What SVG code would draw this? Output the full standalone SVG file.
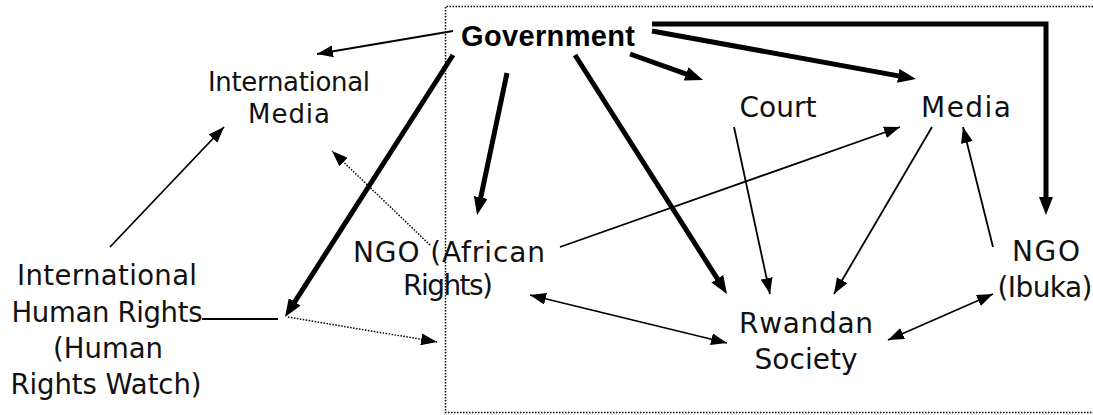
<svg xmlns="http://www.w3.org/2000/svg" width="1093" height="415" viewBox="0 0 1093 415">
<style>
.t{font-family:"DejaVu Sans",sans-serif;fill:#111;text-anchor:middle}
.gov{font-family:"Liberation Sans",Arial,sans-serif;font-weight:bold;fill:#000;text-anchor:middle}
.thin{stroke:#000;stroke-width:1.8;fill:none;marker-end:url(#ah)}
.bi{stroke:#000;stroke-width:1.8;fill:none;marker-end:url(#ah);marker-start:url(#ah)}
.thick{stroke:#000;stroke-width:5;fill:none;marker-end:url(#ahT)}
.dot{stroke:#000;stroke-width:1.5;fill:none;stroke-dasharray:1.5 1.5;marker-end:url(#ah)}
.frame{stroke:#000;stroke-width:1.5;fill:none;stroke-dasharray:1.5 1.5}
</style>
<defs>
<marker id="ah" viewBox="0 0 16 12" refX="16" refY="6" markerWidth="16" markerHeight="12" markerUnits="userSpaceOnUse" orient="auto-start-reverse"><path d="M0,0 L16,6 L0,12 z" fill="#000"/></marker>
<marker id="ahT" viewBox="0 0 18 14" refX="10" refY="7" markerWidth="18" markerHeight="14" markerUnits="userSpaceOnUse" orient="auto"><path d="M0,0 L18,7 L0,14 z" fill="#000"/></marker>
</defs>
<rect width="1093" height="415" fill="#fff"/>
<path class="frame" d="M1093,6.5 L445.5,6.5 L445.5,412.5 L1093,412.5"/>
<g id="connectors">
<line class="thin" x1="453" y1="31" x2="317" y2="54"/>
<line class="thin" x1="110" y1="247" x2="224" y2="127"/>
<line class="dot" x1="430" y1="245" x2="332" y2="151"/>
<line x1="202" y1="319" x2="278" y2="319" stroke="#000" stroke-width="1.8"/>
<line class="dot" x1="288" y1="317" x2="437" y2="342"/>
<line class="thick" x1="453" y1="55" x2="289.3" y2="310.3"/>
<line class="thick" x1="507" y1="73" x2="478.7" y2="207.2"/>
<line class="thick" x1="575" y1="55" x2="722.7" y2="287.2"/>
<line class="thick" x1="630" y1="54" x2="695.5" y2="77.3"/>
<line class="thick" x1="652" y1="31" x2="908.1" y2="77.6"/>
<polyline class="thick" points="652,24 1046,24 1046,207"/>
<line class="thin" x1="560" y1="247" x2="900" y2="127"/>
<line class="thin" x1="734" y1="127" x2="770" y2="294"/>
<line class="thin" x1="932" y1="127" x2="834" y2="294"/>
<line class="thin" x1="993" y1="247" x2="963" y2="127"/>
<line class="bi" x1="530" y1="295" x2="727" y2="343"/>
<line class="bi" x1="888" y1="340" x2="993" y2="294"/>
</g>
<g id="government"><text class="gov" x="548" y="45.5" font-size="29" textLength="174">Government</text></g>
<g id="international-media">
<text class="t" x="289" y="91" font-size="26" textLength="162">International</text>
<text class="t" x="289" y="123" font-size="26" textLength="82">Media</text>
</g>
<g id="court"><text class="t" x="778" y="117" font-size="28" textLength="77">Court</text></g>
<g id="media"><text class="t" x="966" y="117" font-size="28" textLength="90">Media</text></g>
<g id="ngo-african-rights">
<text class="t" x="449" y="262" font-size="28" textLength="192">NGO (African</text>
<text class="t" x="448" y="295" font-size="28" textLength="90">Rights)</text>
</g>
<g id="ngo-ibuka">
<text class="t" x="1046" y="261" font-size="28" textLength="68">NGO</text>
<text class="t" x="1045" y="297" font-size="28" textLength="95">(Ibuka)</text>
</g>
<g id="rwandan-society">
<text class="t" x="806" y="333" font-size="28" textLength="134">Rwandan</text>
<text class="t" x="806" y="369" font-size="28" textLength="103">Society</text>
</g>
<g id="international-human-rights">
<text class="t" x="107" y="285" font-size="27.5" textLength="180">International</text>
<text class="t" x="107" y="322" font-size="27.5" textLength="191">Human Rights</text>
<text class="t" x="108" y="358" font-size="27.5" textLength="110">(Human</text>
<text class="t" x="106" y="394" font-size="27.5" textLength="191">Rights Watch)</text>
</g>
</svg>
